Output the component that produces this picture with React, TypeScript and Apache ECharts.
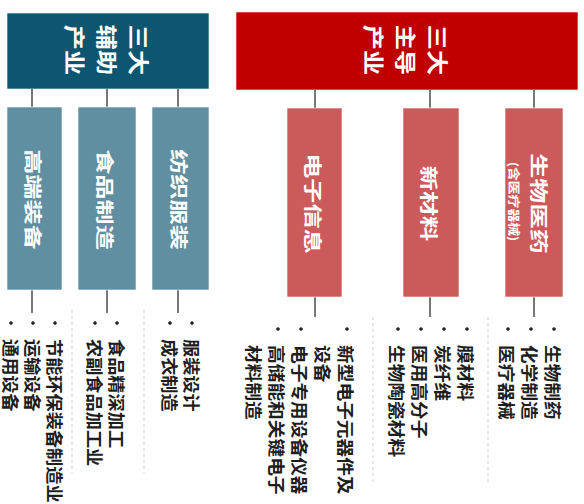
import React, { useEffect, useRef } from "react";
import * as echarts from "echarts";

// ---- content ----
const topTitles = ["三大辅助产业", "三大主导产业"];
const leftSectors = ["高端装备", "食品制造", "纺织服装"];
const rightSectors = ["电子信息", "新材料", "生物医药"];
const leftSectorNotes = ["", "", ""];
const rightSectorNotes = ["", "", "(含医疗器械)"];
const leftItems = [
  ["节能环保装备制造业", "运输设备", "通用设备"],
  ["食品精深加工", "农副食品加工业"],
  ["服装设计", "成衣制造"],
];
const rightItems = [
  ["新型电子元器件及\n设备", "电子专用设备仪器", "高储能和关键电子\n材料制造"],
  ["膜材料", "炭纤维", "医用高分子", "生物陶瓷材料"],
  ["生物制药", "化学制造", "医疗器械"],
];

// ---- layout ----
const FONT = '"Noto Sans CJK SC", "Noto Sans", sans-serif';
const ROT = -Math.PI / 2;

const sides = [
  {
    title: topTitles[0],
    top: { x: 7, y: 13, w: 202, h: 76 },
    topColor: "#0c5671",
    subColor: "#5f8fa0",
    subY: 107,
    subH: 183,
    subBoxes: [
      [7, 55],
      [78, 58],
      [152, 57],
    ],
    connX: [32, 107, 178],
    connBottom: 313,
    colStart: [55, 117, 192],
    colGap: 22,
    bulletY: 323,
    textY: 339,
    itemScale: 1.07,
    sepX: [72, 144],
    sepY: [310, 473],
    sectors: leftSectors,
    notes: leftSectorNotes,
    items: leftItems,
  },
  {
    title: topTitles[1],
    top: { x: 236, y: 12, w: 342, h: 78 },
    topColor: "#c00000",
    subColor: "#cd5a5b",
    subY: 108,
    subH: 189,
    subBoxes: [
      [287, 55],
      [403, 56],
      [505, 58],
    ],
    connX: [315, 430, 534],
    connBottom: 317,
    colStart: [347, 467, 554],
    colGap: 23,
    bulletY: 329,
    textY: 345,
    itemScale: 1.1,
    sepX: [373, 488],
    sepY: [317, 485],
    sectors: rightSectors,
    notes: rightSectorNotes,
    items: rightItems,
  },
];

function buildGraphics() {
  const els: any[] = [];
  sides.forEach((s) => {
    const t = s.top;
    els.push({
      type: "rect",
      shape: { x: t.x, y: t.y, width: t.w, height: t.h },
      style: { fill: s.topColor, stroke: "rgba(255,255,255,0.6)", lineWidth: 1 },
    });
    const titleLines = [s.title.slice(0, 2), s.title.slice(2, 4), s.title.slice(4)].join("\n");
    els.push({
      type: "text",
      x: t.x + t.w / 2,
      y: t.y + t.h / 2 - 1,
      rotation: ROT,
      scaleX: 1.2,
      style: {
        text: titleLines,
        fill: "#ffffff",
        fontSize: 21,
        fontWeight: "bold",
        fontFamily: FONT,
        align: "center",
        verticalAlign: "middle",
        textAlign: "center",
        textVerticalAlign: "middle",
        lineHeight: 32,
      },
    });
    s.subBoxes.forEach((b, i) => {
      const cx = s.connX[i];
      els.push({
        type: "line",
        shape: { x1: cx, y1: t.y + t.h, x2: cx, y2: s.subY },
        style: { stroke: "#4a4a4a", lineWidth: 1.5 },
      });
      els.push({
        type: "line",
        shape: { x1: cx, y1: s.subY + s.subH, x2: cx, y2: s.connBottom },
        style: { stroke: "#4a4a4a", lineWidth: 1.5 },
      });
      els.push({
        type: "rect",
        shape: { x: b[0], y: s.subY, width: b[1], height: s.subH },
        style: { fill: s.subColor, stroke: "rgba(255,255,255,0.6)", lineWidth: 1 },
      });
      const bcx = b[0] + b[1] / 2;
      const bcy = s.subY + s.subH / 2 + 1;
      const note = s.notes[i];
      els.push({
        type: "text",
        x: note ? bcx + 6 : bcx - 1,
        y: bcy,
        rotation: ROT,
        scaleX: 1.4,
        style: {
          text: s.sectors[i],
          fill: "#ffffff",
          fontSize: 18,
          fontWeight: "bold",
          fontFamily: FONT,
          align: "center",
          verticalAlign: "middle",
          textAlign: "center",
          textVerticalAlign: "middle",
        },
      });
      if (note) {
        els.push({
          type: "text",
          x: bcx - 20,
          y: bcy - 2,
          rotation: ROT,
          scaleX: 1.15,
          style: {
            text: note,
            fill: "#ffffff",
            fontSize: 12,
            fontWeight: "bold",
            fontFamily: FONT,
            align: "center",
            verticalAlign: "middle",
            textAlign: "center",
            textVerticalAlign: "middle",
          },
        });
      }
      let col = 0;
      s.items[i].forEach((item) => {
        const lines = item.split("\n");
        const bx = s.colStart[i] - col * s.colGap;
        els.push({
          type: "circle",
          shape: { cx: bx, cy: s.bulletY, r: 1.8 },
          style: { fill: "#222222" },
        });
        lines.forEach((ln) => {
          const lx = s.colStart[i] - col * s.colGap;
          els.push({
            type: "text",
            x: lx,
            y: s.textY,
            rotation: ROT,
            scaleX: s.itemScale,
            style: {
              text: ln,
              fill: "#1e1e1e",
              fontSize: 17,
              lineHeight: 18,
              fontWeight: "bold",
              fontFamily: FONT,
              align: "left",
              verticalAlign: "middle",
              textAlign: "left",
              textVerticalAlign: "middle",
            },
          });
          col++;
        });
      });
    });
    s.sepX.forEach((x) => {
      els.push({
        type: "line",
        shape: { x1: x, y1: s.sepY[0], x2: x, y2: s.sepY[1] },
        style: { stroke: "#cfcfcf", lineWidth: 1, lineDash: [3, 3] },
      });
    });
  });
  return els;
}

export default function App() {
  const ref = useRef<HTMLDivElement>(null);
  useEffect(() => {
    if (!ref.current) return;
    const chart = echarts.init(ref.current, undefined, { renderer: "svg" });
    chart.setOption({
      animation: false,
      backgroundColor: "#ffffff",
      graphic: { elements: buildGraphics() },
    });
    return () => chart.dispose();
  }, []);
  return (
    <div
      ref={ref}
      style={{ position: "fixed", left: 0, top: 0, width: 584, height: 504, background: "#fff" }}
    />
  );
}
